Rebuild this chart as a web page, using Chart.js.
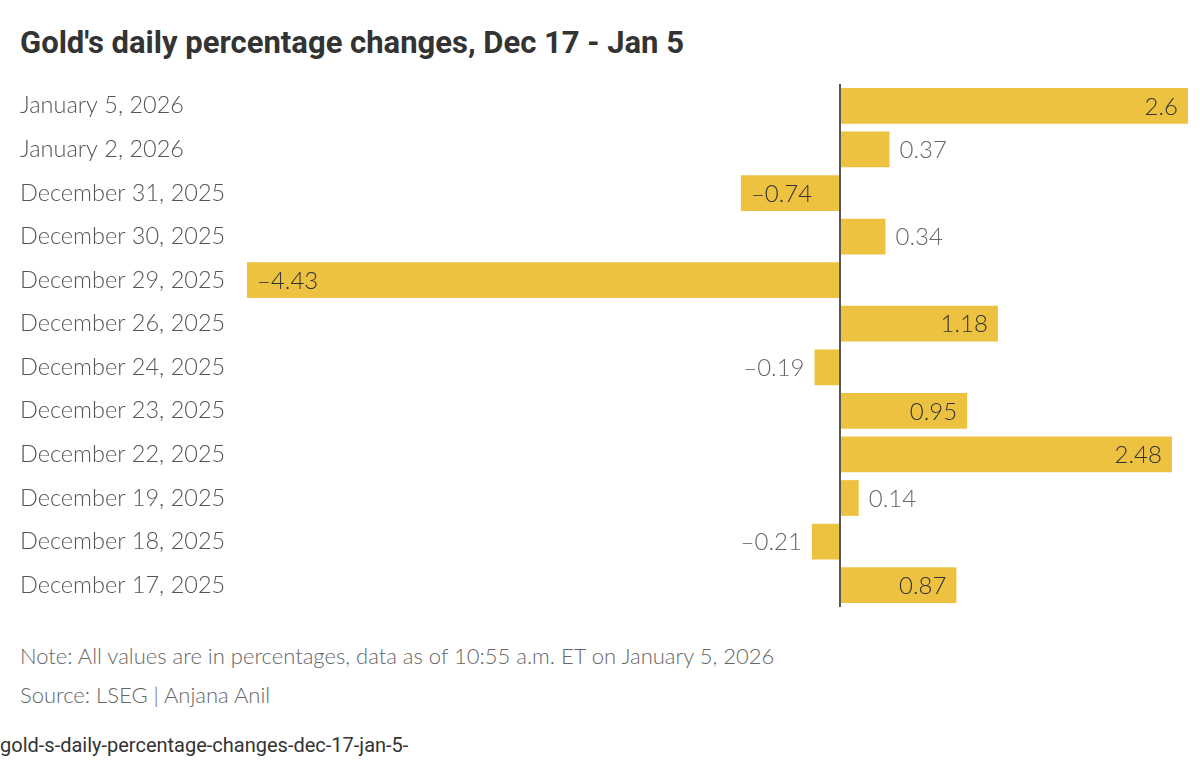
<!DOCTYPE html>
<html lang="en">
<head>
    <meta charset="UTF-8">
    <title>Gold's daily percentage changes</title>
    <script src="https://cdn.jsdelivr.net/npm/chart.js"></script>
    <style>
        body { margin: 0; width: 1200px; height: 765px; background: #fff; position: relative; overflow: hidden; font-family: Lato, Roboto, sans-serif; }
        h1 { position: absolute; left: 20px; top: 23px; margin: 0; font-family: Roboto, sans-serif; font-weight: 700; font-size: 31px; color: #333; line-height: 40px; }
        #wrap { position: absolute; left: 0; top: 70px; width: 1200px; height: 551px; }
        .note { position: absolute; left: 20px; margin: 0; font-size: 22px; line-height: 28px; font-weight: 300; color: #666; }
        .slug { position: absolute; left: 0; top: 733px; margin: 0; font-family: Roboto, sans-serif; font-size: 20px; line-height: 24px; color: #333; }
    </style>
</head>
<body>
    <h1>Gold's daily percentage changes, Dec 17 - Jan 5</h1>
    <div id="wrap"><canvas id="goldChart"></canvas></div>
    <p class="note" style="top: 642px;">Note: All values are in percentages, data as of 10:55 a.m. ET on January 5, 2026</p>
    <p class="note" style="top: 681px;">Source: LSEG | Anjana Anil</p>
    <p class="slug">gold-s-daily-percentage-changes-dec-17-jan-5-</p>

    <script>
        const dates = ['January 5, 2026', 'January 2, 2026', 'December 31, 2025', 'December 30, 2025',
                       'December 29, 2025', 'December 26, 2025', 'December 24, 2025', 'December 23, 2025',
                       'December 22, 2025', 'December 19, 2025', 'December 18, 2025', 'December 17, 2025'];
        const changes = [2.6, 0.37, -0.74, 0.34, -4.43, 1.18, -0.19, 0.95, 2.48, 0.14, -0.21, 0.87];

        const labelFont = '300 24px Lato, Roboto, sans-serif';

        function fmt(v) {
            return (v < 0 ? '\u2013' : '') + Math.abs(v);
        }

        // value labels: inside the bar end if they fit, otherwise just outside
        const barLabels = {
            id: 'barLabels',
            afterDatasetsDraw(chart) {
                const ctx = chart.ctx;
                const meta = chart.getDatasetMeta(0);
                ctx.save();
                ctx.font = labelFont;
                ctx.textBaseline = 'middle';
                meta.data.forEach((bar, i) => {
                    const v = changes[i];
                    const txt = fmt(v);
                    const w = ctx.measureText(txt).width;
                    const barW = Math.abs(bar.x - bar.base);
                    const pad = 10;
                    const inside = w + pad * 2 < barW;
                    if (v >= 0) {
                        ctx.textAlign = inside ? 'right' : 'left';
                        ctx.fillStyle = inside ? '#333' : '#666';
                        ctx.fillText(txt, inside ? bar.x - pad : bar.x + pad, bar.y + 1);
                    } else {
                        ctx.textAlign = inside ? 'left' : 'right';
                        ctx.fillStyle = inside ? '#333' : '#666';
                        ctx.fillText(txt, inside ? bar.x + pad : bar.x - pad, bar.y + 1);
                    }
                });
                ctx.restore();
            }
        };

        new Chart(document.getElementById('goldChart'), {
            type: 'bar',
            data: {
                labels: dates,
                datasets: [{
                    data: changes,
                    backgroundColor: '#ecc240',
                    borderWidth: 0,
                    barPercentage: 0.82,
                    categoryPercentage: 1
                }]
            },
            options: {
                indexAxis: 'y',
                responsive: true,
                maintainAspectRatio: false,
                animation: false,
                layout: { padding: { left: 20, right: 12, top: 0, bottom: 0 } },
                plugins: {
                    legend: { display: false },
                    tooltip: { enabled: false }
                },
                scales: {
                    x: {
                        min: -4.43,
                        max: 2.6,
                        ticks: { display: false },
                        border: { display: false },
                        grid: {
                            drawTicks: false,
                            lineWidth: 2,
                            color: c => c.tick && c.tick.value === 0 ? '#555' : 'rgba(0,0,0,0)'
                        },
                        afterFit: s => { s.height = 0; }
                    },
                    y: {
                        ticks: {
                            crossAlign: 'far',
                            padding: 0,
                            color: '#555',
                            font: { family: 'Lato, Roboto, sans-serif', size: 23.5, weight: '300' }
                        },
                        grid: { display: false },
                        border: { display: false },
                        afterFit: s => { s.width = 227; }
                    }
                }
            },
            plugins: [barLabels]
        });
    </script>
</body>
</html>
